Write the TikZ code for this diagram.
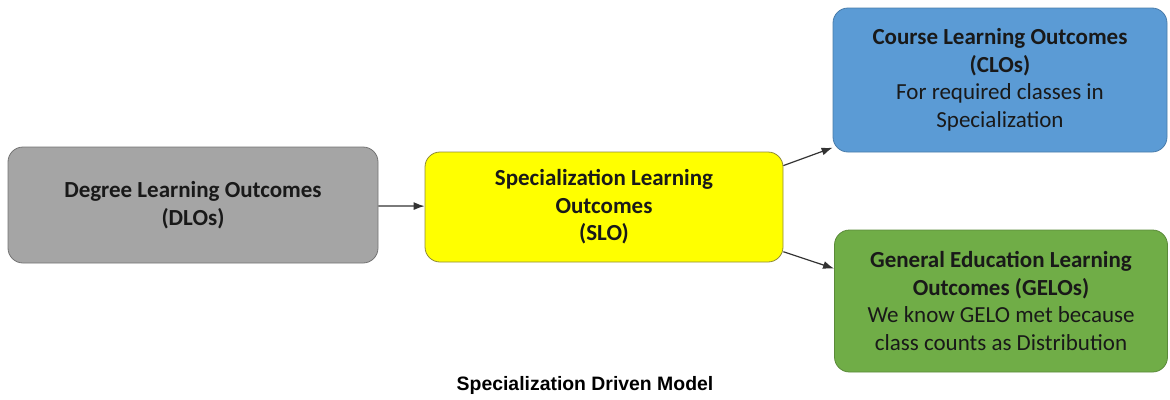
\documentclass[tikz,border=0pt]{standalone}
\usepackage{fontspec}
\setmainfont{Carlito}
\newfontfamily\capfont{Liberation Sans}
\usepackage{tikz}
\usetikzlibrary{arrows.meta}
\definecolor{dlogray}{HTML}{A5A5A5}
\definecolor{slobyellow}{HTML}{FFFF00}
\definecolor{cloblue}{HTML}{5B9BD5}
\definecolor{gelogreen}{HTML}{70AD47}
\tikzstyle{outcome} = [rounded corners=15pt, align=center, inner sep=0pt, line width=0.8pt,
  font={\fontsize{23}{27.5}\selectfont}, text=black!90]
\tikzstyle{degree} = [fill=dlogray, draw=gray!90!black, minimum width=370pt, minimum height=116pt]
\tikzstyle{special} = [fill=slobyellow, draw=olive!60!gray, minimum width=358pt, minimum height=110pt]
\tikzstyle{course} = [fill=cloblue, draw=cloblue!80!black, minimum width=334pt, minimum height=144pt]
\tikzstyle{gened} = [fill=gelogreen, draw=gelogreen!80!black, minimum width=333pt, minimum height=142pt]
\tikzstyle{link} = [-{Latex[length=11pt,width=8pt]}, draw=black!80, line width=1.2pt]

\begin{document}
\begin{tikzpicture}[x=1pt,y=-1pt]
    \useasboundingbox (0,0) rectangle (1170,399);
    \node[outcome,degree](dlo) at (193,205){\bfseries Degree Learning Outcomes\\\bfseries (DLOs)};
    \node[outcome,special](slo) at (604,207){\bfseries Specialization Learning\\\bfseries Outcomes\\\bfseries (SLO)};
    \node[outcome,course](clo) at (1000,80){\bfseries Course Learning Outcomes\\\bfseries (CLOs)\\For required classes in\\Specialization};
    \node[outcome,gened](gelo) at (1001,301){\bfseries General Education Learning\\\bfseries Outcomes (GELOs)\\We know GELO met because\\class counts as Distribution};
    \node[font={\capfont\bfseries\fontsize{19.4}{22}\selectfont}](title) at (585,385){Specialization Driven Model};
    \draw[link](dlo)--(slo);
    \draw[link](slo.13)--(clo.202);
    \draw[link](slo.-14)--(gelo.169);
  \end{tikzpicture}
\end{document}
